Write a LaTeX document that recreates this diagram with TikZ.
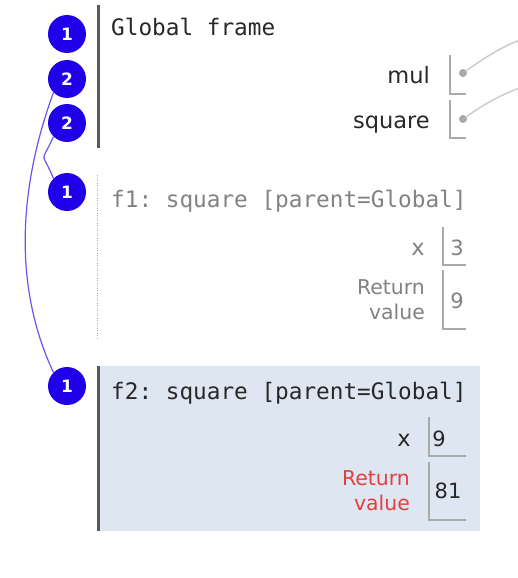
\documentclass[tikz,border=0pt]{standalone}
\usepackage{fontspec}
\setmainfont{DejaVu Sans}
\setmonofont{DejaVu Sans Mono}
\definecolor{blueC}{RGB}{32,0,232}
\definecolor{linkC}{RGB}{105,85,240}
\definecolor{darkT}{RGB}{40,40,40}
\definecolor{grayT}{RGB}{130,130,130}
\definecolor{boxC}{RGB}{170,170,170}
\definecolor{ptrC}{RGB}{205,205,205}
\definecolor{bgC}{RGB}{222,230,242}
\definecolor{redC}{RGB}{228,62,62}
\definecolor{barC}{RGB}{90,90,90}
\begin{document}
\begin{tikzpicture}[x=1pt,y=-1pt,
  badge/.style={circle, fill=blueC, minimum size=38pt, inner sep=0pt, text=white,
    font=\fontsize{17}{17}\selectfont\bfseries},
  ftitle/.style={anchor=base west, inner sep=0pt, font=\ttfamily\fontsize{22.7}{27}\selectfont},
  varname/.style={anchor=base east, inner sep=0pt, font=\fontsize{22.5}{27}\selectfont},
  retlabel/.style={anchor=east, inner sep=0pt, align=right, font=\fontsize{20.4}{25}\selectfont},
  valtext/.style={anchor=base, inner sep=0pt, font=\fontsize{21}{24}\selectfont},
  boxline/.style={draw=boxC, line width=1.3pt},
  link/.style={draw=linkC, line width=1.2pt},
  ptrdot/.style={circle, fill=boxC, minimum size=8pt, inner sep=0pt},
  ptr/.style={draw=ptrC, line width=1.5pt},
  bar/.style={draw=barC, line width=3pt}
]
\useasboundingbox[fill=white] (0,0) rectangle (518,578);
\clip (0,0) rectangle (518,578);

% f2 background
\fill[bgC] (98,366) rectangle (480,531);

% frame bars
\draw[bar] (98,5) -- (98,148);
\draw[draw=boxC, line width=1pt, dash pattern=on 1pt off 1.5pt] (97,175) -- (97,340);
\draw[bar] (98,366) -- (98,531);

% titles
\node[ftitle, text=darkT] (gtitle) at (111,36) {Global frame};
\node[ftitle, text=grayT] (f1title) at (111,207) {f1: square [parent=Global]};
\node[ftitle, text=darkT] (f2title) at (111,399) {f2: square [parent=Global]};

% global variables
\node[varname, text=darkT] (mul) at (430,84) {mul};
\node[varname, text=darkT] (square) at (430,128) {square};
\draw[boxline] (450,55) -- (450,94) -- (466,94);
\draw[boxline] (450,100) -- (450,138) -- (466,138);
\node[ptrdot] (muldot) at (463,73) {};
\node[ptrdot] (sqdot) at (463,119) {};
\coordinate (mulend) at (530,36);
\coordinate (sqend) at (530,84);
\draw[ptr] (muldot) to[out=35,in=200] (mulend);
\draw[ptr] (sqdot) to[out=35,in=200] (sqend);

% f1 variables
\node[varname, text=grayT] (f1x) at (425,255) {x};
\draw[boxline] (443,227) -- (443,265) -- (466,265);
\node[valtext, text=grayT] (f1xv) at (457,255) {3};
\node[retlabel, text=grayT] (f1ret) at (425,300) {Return\\value};
\draw[boxline] (443,270) -- (443,329) -- (466,329);
\node[valtext, text=grayT] (f1rv) at (457,308) {9};

% f2 variables
\node[varname, text=darkT] (f2x) at (411,446) {x};
\draw[boxline] (429,417) -- (429,456) -- (466,456);
\node[valtext, text=darkT] (f2xv) at (439,446) {9};
\node[retlabel, text=redC] (f2ret) at (410,491) {Return\\value};
\draw[boxline] (429,462) -- (429,520) -- (466,520);
\node[valtext, text=darkT] (f2rv) at (448,498) {81};

% badges
\node[badge] (b1) at (67,34) {1};
\node[badge] (b2a) at (67,79) {2};
\node[badge] (b2b) at (67,123) {2};
\node[badge] (b1f1) at (67,192) {1};
\node[badge] (b1f2) at (67,386) {1};

% links
\draw[link] (b2a.south west) to[out=250,in=115,looseness=0.9] (b1f2.north west);
\draw[link] (b2b.south west) to[out=246,in=112,looseness=2] (b1f1.north west);
\end{tikzpicture}
\end{document}
